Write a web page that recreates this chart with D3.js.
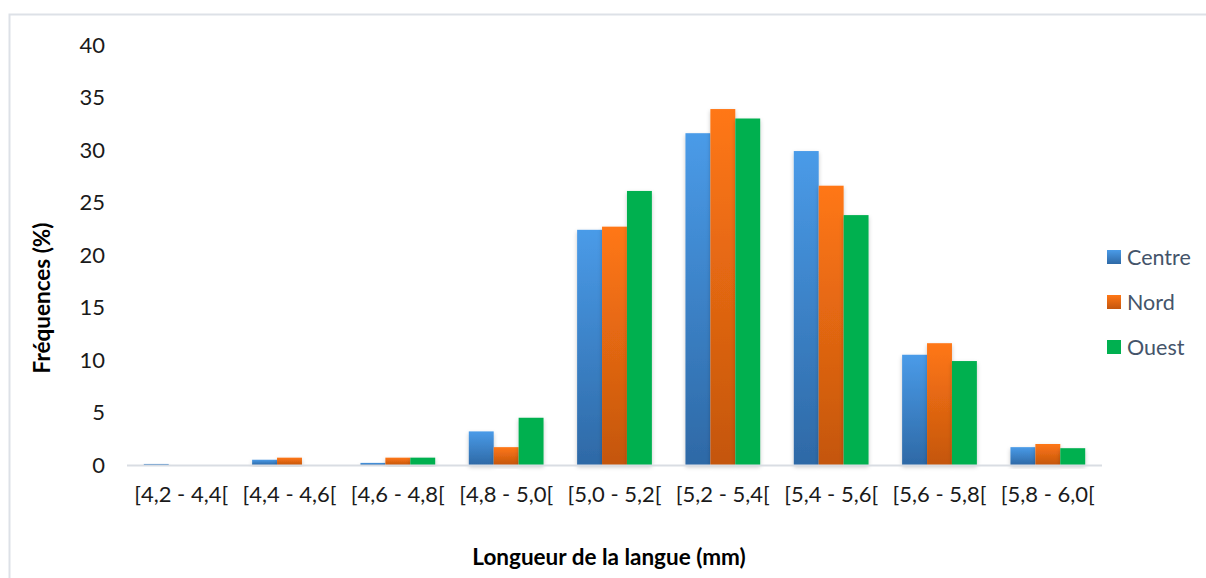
<!DOCTYPE html>
<html>
<head>
<meta charset="utf-8">
<script src="https://cdn.jsdelivr.net/npm/d3@7"></script>
<style>
  html, body { margin: 0; padding: 0; background: #ffffff; }
  svg { display: block; font-family: Lato, "Open Sans", sans-serif; }
</style>
</head>
<body>
<svg id="chart" width="1206" height="578"></svg>
<script>
// Length classes of the tongue (mm)
const categories = ["[4,2 - 4,4[", "[4,4 - 4,6[", "[4,6 - 4,8[", "[4,8 - 5,0[", "[5,0 - 5,2[",
                    "[5,2 - 5,4[", "[5,4 - 5,6[", "[5,6 - 5,8[", "[5,8 - 6,0["];
const seriesNames = ["Centre", "Nord", "Ouest"];
// Frequencies (%) per region
const centre = [0.1, 0.5, 0.2, 3.2, 22.4, 31.6, 29.9, 10.5, 1.7];
const nord   = [0.0, 0.7, 0.7, 1.7, 22.7, 33.9, 26.6, 11.6, 2.0];
const ouest  = [0.0, 0.0, 0.7, 4.5, 26.1, 33.0, 23.8, 9.9, 1.6];
const yTicks = [0, 5, 10, 15, 20, 25, 30, 35, 40];

const values = [centre, nord, ouest];
const svg = d3.select("#chart");

// Outer frame
svg.append("rect")
  .attr("x", 9.5).attr("y", 14.5)
  .attr("width", 1206).attr("height", 578)
  .attr("fill", "none").attr("stroke", "#dde1e7").attr("stroke-width", 2);

const defs = svg.append("defs");
const grads = [
  { id: "gCentre", top: "#4a9be8", bottom: "#2e69a6" },
  { id: "gNord", top: "#ff7715", bottom: "#c4560e" },
  { id: "gOuest", top: "#00b050", bottom: "#00b050" }
];
grads.forEach(g => {
  const lg = defs.append("linearGradient").attr("id", g.id)
    .attr("x1", 0).attr("y1", 0).attr("x2", 0).attr("y2", 1);
  lg.append("stop").attr("offset", "0%").attr("stop-color", g.top);
  lg.append("stop").attr("offset", "100%").attr("stop-color", g.bottom);
});
const shadow = defs.append("filter").attr("id", "shadow")
  .attr("x", "-30%").attr("y", "-10%").attr("width", "160%").attr("height", "130%");
shadow.append("feDropShadow").attr("dx", 0).attr("dy", 2)
  .attr("stdDeviation", 2.2).attr("flood-color", "#000").attr("flood-opacity", 0.22);

const plotLeft = 127, plotRight = 1102, plotTop = 45, plotBottom = 465;

const x = d3.scaleBand().domain(categories).range([plotLeft, plotRight]).paddingInner(0.31).paddingOuter(0.155);
const xs = d3.scaleBand().domain(seriesNames).range([0, x.bandwidth()]);
const y = d3.scaleLinear().domain([0, 40]).range([plotBottom, plotTop]);

// Bars
const groups = svg.append("g").selectAll("g")
  .data(categories).join("g")
  .attr("transform", d => `translate(${x(d)},0)`);

groups.selectAll("rect")
  .data((d, i) => seriesNames.map((s, k) => ({ s, k, v: values[k][i] })).filter(d => d.v > 0))
  .join("rect")
  .attr("x", d => xs(d.s))
  .attr("y", d => y(d.v))
  .attr("width", xs.bandwidth())
  .attr("height", d => y(0) - y(d.v))
  .attr("fill", d => `url(#${grads[d.k].id})`)
  .attr("filter", "url(#shadow)");

// Category axis line
svg.append("line")
  .attr("x1", plotLeft).attr("x2", plotRight)
  .attr("y1", plotBottom + 0.5).attr("y2", plotBottom + 0.5)
  .attr("stroke", "#d9dde3").attr("stroke-width", 2);

// Y tick labels
const yAxis = d3.axisLeft(y).tickValues(yTicks).tickSize(0).tickPadding(0);
const yg = svg.append("g").attr("transform", "translate(105,0)").call(yAxis);
yg.select(".domain").remove();
yg.selectAll("text").attr("font-size", 22).attr("fill", "#1a1a1a")
  .attr("font-family", "Lato, sans-serif");

// X tick labels
const xAxis = d3.axisBottom(x).tickSize(0).tickPadding(0);
const xg = svg.append("g").attr("transform", `translate(0,${plotBottom + 21})`).call(xAxis);
xg.select(".domain").remove();
xg.selectAll("text").attr("font-size", 22).attr("fill", "#1a1a1a")
  .attr("font-family", "Lato, sans-serif");

// Axis titles
svg.append("text")
  .attr("x", 609).attr("y", 565)
  .attr("text-anchor", "middle")
  .attr("font-size", 22.5).attr("font-weight", "bold").attr("fill", "#000")
  .text("Longueur de la langue (mm)");

svg.append("text")
  .attr("transform", "translate(50,298) rotate(-90)")
  .attr("text-anchor", "middle")
  .attr("font-size", 22.5).attr("font-weight", "bold").attr("fill", "#000")
  .text("Fréquences (%)");

// Legend
const legend = svg.append("g").selectAll("g")
  .data(seriesNames).join("g")
  .attr("transform", (d, i) => `translate(1107,${250 + i * 45})`);
legend.append("rect")
  .attr("width", 14).attr("height", 14)
  .attr("fill", (d, i) => `url(#${grads[i].id})`);
legend.append("text")
  .attr("x", 20).attr("y", 15)
  .attr("font-size", 21.5).attr("fill", "#44546a")
  .text(d => d);
</script>
</body>
</html>
